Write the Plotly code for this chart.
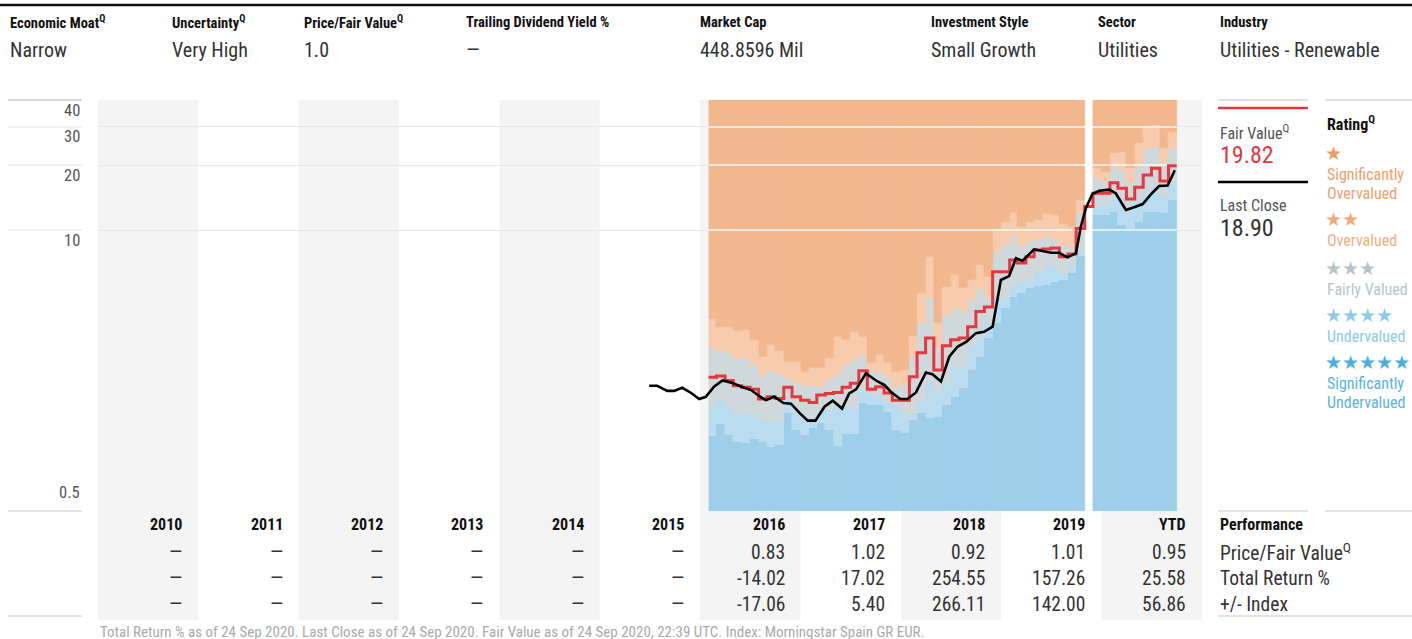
import math
from datetime import date
import plotly.graph_objects as go

# ---------------- data ----------------
HEADER_LABELS = ["Economic Moat", "Uncertainty", "Price/Fair Value", "Trailing Dividend Yield %",
                 "Market Cap", "Investment Style", "Sector", "Industry"]
HEADER_HAS_Q = [True, True, True, False, False, False, False, False]
HEADER_VALUES = ["Narrow", "Very High", "1.0", "—", "448.8596 Mil", "Small Growth",
                 "Utilities", "Utilities - Renewable"]

# monthly valuation bands (Nov 2019 missing)
BAND_MONTHS = [
    "2016-02", "2016-03", "2016-04", "2016-05", "2016-06", "2016-07", "2016-08", "2016-09", "2016-10", "2016-11", "2016-12",
    "2017-01", "2017-02", "2017-03", "2017-04", "2017-05", "2017-06", "2017-07", "2017-08", "2017-09", "2017-10", "2017-11", "2017-12",
    "2018-01", "2018-02", "2018-03", "2018-04", "2018-05", "2018-06", "2018-07", "2018-08", "2018-09", "2018-10", "2018-11", "2018-12",
    "2019-01", "2019-02", "2019-03", "2019-04", "2019-05", "2019-06", "2019-07", "2019-08", "2019-09", "2019-10",
    "2019-12", "2020-01", "2020-02", "2020-03", "2020-04", "2020-05", "2020-06", "2020-07", "2020-08", "2020-09",
]
# lower edge of the 1-star zone
BAND_1STAR = [3.87, 3.56, 3.56, 3.41, 3.44, 3.10, 2.58, 2.94, 2.75, 2.45, 2.45,
              2.20, 2.30, 2.30, 2.56, 3.20, 3.10, 3.37, 3.20, 2.42, 2.64, 2.42, 2.20,
              2.25, 3.23, 5.11, 7.50, 3.71, 5.45, 6.19, 5.39, 5.87, 6.89, 6.06, 10.0,
              10.89, 11.99, 10.32, 10.89, 11.13, 11.86, 11.73, 10.66, 10.32, 13.77,
              19.36, 18.56, 22.73, 22.97, 19.36, 25.28, 30.0, 30.63, 23.97, 28.42]
# lower edge of the 2-star zone
BAND_2STAR = [2.84, 2.75, 2.70, 2.53, 2.56, 2.37, 2.11, 2.23, 2.15, 2.04, 1.96,
              1.90, 1.90, 1.90, 2.02, 2.15, 2.37, 2.50, 2.64, 2.20, 2.20, 2.06, 1.88,
              1.92, 2.58, 3.71, 4.84, 2.87, 4.04, 4.35, 4.17, 4.74, 5.33, 4.90, 7.91,
              8.52, 9.38, 8.34, 8.80, 8.99, 9.28, 8.99, 8.43, 8.34, 11.99,
              17.41, 16.68, 19.36, 18.96, 16.51, 19.57, 23.47, 24.23, 20.43, 23.71]
# lower edge of the 3-star zone
BAND_3STAR = [1.52, 1.65, 1.52, 1.39, 1.41, 1.41, 1.31, 1.29, 1.29, 1.63, 1.42,
              1.35, 1.35, 1.47, 1.47, 1.52, 1.52, 1.50, 1.82, 1.72, 1.67, 1.58, 1.55,
              1.36, 1.42, 1.60, 1.98, 1.76, 1.96, 2.32, 2.32, 2.87, 3.20, 3.71, 4.84,
              4.84, 5.57, 5.75, 5.87, 6.32, 6.67, 6.67, 6.32, 6.74, 8.08,
              13.05, 13.05, 13.77, 13.77, 12.38, 13.77, 14.83, 15.31, 14.22, 16.51]
# lower edge of the 4-star zone
BAND_4STAR = [1.11, 1.26, 1.12, 1.04, 1.03, 1.08, 1.04, 0.99, 1.01, 1.42, 1.19,
              1.12, 1.21, 1.28, 1.19, 1.00, 1.14, 1.14, 1.58, 1.55, 1.55, 1.44, 1.19,
              1.15, 1.32, 1.42, 1.35, 1.36, 1.55, 1.69, 1.86, 2.25, 2.58, 3.16, 3.71,
              4.35, 4.90, 5.11, 5.39, 5.51, 5.57, 5.75, 5.87, 6.32, 7.58,
              11.73, 11.73, 12.11, 10.55, 10.11, 10.89, 12.11, 12.11, 11.99, 13.77]

FV_MONTHS = [
    "2016-02", "2016-03", "2016-04", "2016-05", "2016-06", "2016-07", "2016-08", "2016-09", "2016-10", "2016-11", "2016-12",
    "2017-01", "2017-02", "2017-03", "2017-04", "2017-05", "2017-06", "2017-07", "2017-08", "2017-09", "2017-10", "2017-11", "2017-12",
    "2018-01", "2018-02", "2018-03", "2018-04", "2018-05", "2018-06", "2018-07", "2018-08", "2018-09", "2018-10", "2018-11", "2018-12",
    "2019-01", "2019-02", "2019-03", "2019-04", "2019-05", "2019-06", "2019-07", "2019-08", "2019-09", "2019-10", "2019-11", "2019-12",
    "2020-01", "2020-02", "2020-03", "2020-04", "2020-05", "2020-06", "2020-07", "2020-08", "2020-09",
]
FV_VALUES = [2.08, 2.11, 2.01, 1.90, 1.87, 1.83, 1.65, 1.69, 1.66, 1.87, 1.69,
             1.63, 1.59, 1.72, 1.75, 1.77, 1.87, 1.95, 2.23, 1.83, 1.88, 1.76, 1.63,
             1.63, 2.09, 2.70, 3.16, 2.25, 2.91, 3.10, 3.16, 3.57, 4.19, 4.40, 6.41,
             6.41, 7.26, 7.04, 7.52, 8.08, 8.17, 8.25, 7.52, 7.74, 10.16, 12.85, 14.79,
             14.79, 16.56, 15.60, 13.91, 15.77, 17.97, 19.30, 16.86, 19.82]

PRICE_DATES = [
    "2015-06-30", "2015-07-29", "2015-09-04", "2015-09-29", "2015-10-28", "2015-11-30", "2015-12-29",
    "2016-01-22", "2016-02-21", "2016-03-23", "2016-04-28", "2016-06-04", "2016-07-04", "2016-08-04",
    "2016-08-28", "2016-09-27", "2016-10-31", "2016-11-27", "2016-12-29",
    "2017-01-27", "2017-02-24", "2017-03-29", "2017-04-28", "2017-06-01", "2017-06-27", "2017-07-22",
    "2017-08-27", "2017-09-14", "2017-10-08", "2017-11-02", "2017-11-26", "2017-12-30",
    "2018-01-25", "2018-02-25", "2018-04-02", "2018-04-26", "2018-05-27", "2018-06-26", "2018-07-26",
    "2018-08-28", "2018-10-01", "2018-10-31", "2018-12-01", "2018-12-31",
    "2019-01-30", "2019-02-24", "2019-03-20", "2019-05-01", "2019-05-31", "2019-07-01", "2019-07-31",
    "2019-08-30", "2019-09-30", "2019-10-18", "2019-11-05", "2019-11-29", "2019-12-24",
    "2020-01-29", "2020-02-22", "2020-03-30", "2020-04-29", "2020-05-30", "2020-06-29", "2020-07-29",
    "2020-08-29", "2020-09-24",
]
PRICE_VALUES = [1.90, 1.90, 1.80, 1.80, 1.86, 1.76, 1.65,
                1.69, 1.88, 2.01, 1.96, 1.87, 1.82, 1.70,
                1.63, 1.69, 1.58, 1.57, 1.42,
                1.31, 1.31, 1.52, 1.62, 1.49, 1.75, 1.83,
                2.17, 2.09, 1.99, 1.92, 1.78, 1.65,
                1.65, 1.77, 2.19, 2.15, 1.99, 2.59, 2.88,
                3.04, 3.33, 3.38, 3.57, 5.87,
                6.12, 7.40, 7.21, 8.14, 8.02, 7.85, 7.85,
                7.48, 7.80, 10.36, 12.60, 14.68, 15.20,
                15.38, 14.79, 12.38, 12.74, 13.19, 14.63, 15.98,
                16.07, 18.90]

FAIR_VALUE_TEXT = "19.82"
LAST_CLOSE_TEXT = "18.90"

YEARS = ["2010", "2011", "2012", "2013", "2014", "2015", "2016", "2017", "2018", "2019", "YTD"]
ROW_LABELS = ["Price/Fair Value", "Total Return %", "+/- Index"]
ROW_PFV = ["—", "—", "—", "—", "—", "—", "0.83", "1.02", "0.92", "1.01", "0.95"]
ROW_TR = ["—", "—", "—", "—", "—", "—", "-14.02", "17.02", "254.55", "157.26", "25.58"]
ROW_IDX = ["—", "—", "—", "—", "—", "—", "-17.06", "5.40", "266.11", "142.00", "56.86"]

Y_TICKS = [40, 30, 20, 10, 0.5]
Y_TICK_TEXT = ["40", "30", "20", "10", "0.5"]

RATINGS = [
    ("★", ["Significantly", "Overvalued"], "#f29a5e", "#f3a06a"),
    ("★★", ["Overvalued"], "#f4aa78", "#f5ae7e"),
    ("★★★", ["Fairly Valued"], "#b7c3c6", "#b9c5c8"),
    ("★★★★", ["Undervalued"], "#8ecaeb", "#8fcaea"),
    ("★★★★★", ["Significantly", "Undervalued"], "#4cafe3", "#5ab4e3"),
]

FOOTNOTE = ("Total Return % as of 24 Sep 2020. Last Close as of 24 Sep 2020. "
            "Fair Value as of 24 Sep 2020, 22:39 UTC. Index: Morningstar Spain GR EUR.")

# ---------------- styling ----------------
FONT = "Liberation Sans Narrow, Roboto Condensed, Arial Narrow, Roboto, sans-serif"
W, H = 1412, 639
PLOT_L, PLOT_R, PLOT_T, PLOT_B = 98, 1202, 100, 511
AXIS_MIN, AXIS_MAX = 0.5, 40
COL_BANDS = ["#9dcfeb", "#b9dcf1", "#cfd8da", "#f7cbab", "#f2b78d"]
RED = "#e8363f"
GREY_COL = "#f4f4f4"


def px(x):
    return (x - PLOT_L) / (PLOT_R - PLOT_L)


def py(y):
    return (PLOT_B - y) / (PLOT_B - PLOT_T)


def m_start(m):
    y, mo = map(int, m.split("-"))
    return date(y, mo, 1)


def m_end(m):
    y, mo = map(int, m.split("-"))
    return date(y + (1 if mo == 12 else 0), mo % 12 + 1, 1)


MS_DAY = 86400000
bx = [m_start(m).isoformat() for m in BAND_MONTHS]
bw = [(m_end(m) - m_start(m)).days * MS_DAY for m in BAND_MONTHS]

lower = [[AXIS_MIN * 0.8] * len(BAND_MONTHS), BAND_4STAR, BAND_3STAR, BAND_2STAR, BAND_1STAR]
upper = [BAND_4STAR, BAND_3STAR, BAND_2STAR, BAND_1STAR, [AXIS_MAX * 1.3] * len(BAND_MONTHS)]

fig = go.Figure()
for k in range(5):
    fig.add_trace(go.Bar(
        x=bx, y=[u - l for u, l in zip(upper[k], lower[k])], base=lower[k],
        width=bw, offset=0,
        marker=dict(color=COL_BANDS[k], line=dict(color=COL_BANDS[k], width=0.4)),
        hoverinfo="skip", showlegend=False))

# white gridlines over the valuation area
g_x0 = m_start(BAND_MONTHS[0]).isoformat()
g_x1 = m_end(BAND_MONTHS[-1]).isoformat()
for g in [10, 20, 30]:
    fig.add_trace(go.Scatter(x=[g_x0, g_x1], y=[g, g], mode="lines",
                             line=dict(color="rgba(255,255,255,0.9)", width=1.3),
                             hoverinfo="skip", showlegend=False))

# fair value step line
fv_x = [m_start(m).isoformat() for m in FV_MONTHS] + [m_end(FV_MONTHS[-1]).isoformat()]
fv_y = FV_VALUES + [FV_VALUES[-1]]
fig.add_trace(go.Scatter(x=fv_x, y=fv_y, mode="lines", line=dict(color=RED, width=3, shape="hv"),
                         hoverinfo="skip", showlegend=False))
# price line
fig.add_trace(go.Scatter(x=PRICE_DATES, y=PRICE_VALUES, mode="lines",
                         line=dict(color="#000000", width=2.6),
                         hoverinfo="skip", showlegend=False))

shapes = []
# alternating year columns
for i, yr in enumerate(YEARS):
    if i % 2 == 0:
        y0 = 2010 + i
        shapes.append(dict(type="rect", xref="x", yref="paper", layer="below",
                           x0=f"{y0}-01-01", x1=f"{y0 + 1}-01-01", y0=py(620), y1=py(PLOT_T),
                           fillcolor=GREY_COL, line=dict(width=0)))


def hline(x0, x1, y, color, width=1):
    shapes.append(dict(type="line", xref="paper", yref="paper", x0=px(x0), x1=px(x1),
                       y0=py(y), y1=py(y), line=dict(color=color, width=width)))


hline(0, W, 5, "#111111", 2.6)
hline(8, 82, 100, "#b0b0b0", 1)
for v in [30, 20, 10]:
    yy = PLOT_B - (math.log10(v) - math.log10(AXIS_MIN)) / (math.log10(AXIS_MAX) - math.log10(AXIS_MIN)) * (PLOT_B - PLOT_T)
    hline(8, 82, yy, "#e2e2e2", 1)
hline(8, 82, 511, "#c8c8c8", 1)
hline(8, 82, 616, "#c8c8c8", 1)
hline(1218, 1308, 100, "#c8c8c8", 1)
hline(1325, 1412, 100, "#c8c8c8", 1)
hline(1218, 1308, 108, RED, 2.6)
hline(1218, 1308, 182, "#000000", 2.3)
hline(1218, 1308, 511, "#c8c8c8", 1)
hline(1325, 1412, 511, "#c8c8c8", 1)
hline(1218, 1412, 616, "#c8c8c8", 1)

ann = []


def text(x, y, s, size, color="#333333", bold=False, anchor="left", family=FONT):
    ann.append(dict(xref="paper", yref="paper", x=px(x), y=py(y), text=s, showarrow=False,
                    xanchor=anchor, yanchor="middle",
                    font=dict(family=family, size=size, color=color, weight=700 if bold else 400)))


# header
HEADER_X = [8, 170, 302, 464, 698, 929, 1096, 1218]
for hx, lab, q, val in zip(HEADER_X, HEADER_LABELS, HEADER_HAS_Q, HEADER_VALUES):
    text(hx, 22, lab + ("<sup>Q</sup>" if q else ""), 14.5, "#111111", bold=True)
    text(hx, 50, val, 20, "#333333")

# y tick labels
for v, t in zip(Y_TICKS, Y_TICK_TEXT):
    ann.append(dict(xref="paper", yref="y", x=px(82), y=math.log10(v), text=t, showarrow=False,
                    xanchor="right", yanchor="middle", yshift=(19 if v == AXIS_MIN else -10),
                    font=dict(family=FONT, size=16.5, color="#555555")))

# table
for i, yr in enumerate(YEARS):
    xr = f"{2011 + i}-01-01"
    ann.append(dict(xref="x", yref="paper", x=xr, y=py(524), text=yr, showarrow=False,
                    xanchor="right", yanchor="middle", xshift=-14,
                    font=dict(family=FONT, size=16, color="#111111", weight=700)))
    for row, yy in zip([ROW_PFV, ROW_TR, ROW_IDX], [552, 578, 604]):
        ann.append(dict(xref="x", yref="paper", x=xr, y=py(yy), text=row[i], showarrow=False,
                        xanchor="right", yanchor="middle", xshift=-14,
                        font=dict(family=FONT, size=19.5, color="#333333")))

text(1218, 524, "Performance", 16, "#111111", bold=True)
text(1218, 552, ROW_LABELS[0] + "<sup>Q</sup>", 19.5)
text(1218, 578, ROW_LABELS[1], 19.5)
text(1218, 604, ROW_LABELS[2], 19.5)

# legend: fair value / last close
text(1218, 132, "Fair Value<sup>Q</sup>", 16, "#555555")
text(1218, 155, FAIR_VALUE_TEXT, 24, RED)
text(1218, 205, "Last Close", 16, "#555555")
text(1218, 228, LAST_CLOSE_TEXT, 24, "#333333")

# legend: rating
text(1325, 123, "Rating<sup>Q</sup>", 16, "#111111", bold=True)
STAR_Y = [153, 219, 268, 315, 362]
for (stars, lines, scol, tcol), sy in zip(RATINGS, STAR_Y):
    text(1323, sy, stars, 19, scol, family="DejaVu Sans")
    for j, ln in enumerate(lines):
        text(1325, sy + 21 + 19.5 * j, ln, 16, tcol)

# footnote
text(98, 632, FOOTNOTE, 15, "#aaaaaa")

fig.update_layout(
    width=W, height=H,
    margin=dict(l=PLOT_L, r=W - PLOT_R, t=PLOT_T, b=H - PLOT_B, pad=0),
    paper_bgcolor="white", plot_bgcolor="rgba(0,0,0,0)",
    barmode="overlay", bargap=0,
    showlegend=False,
    shapes=shapes, annotations=ann,
    font=dict(family=FONT),
    xaxis=dict(type="date", range=["2010-01-01", "2021-01-01"], showgrid=False, zeroline=False,
               showticklabels=False, showline=False, ticks="", fixedrange=True),
    yaxis=dict(type="log", range=[math.log10(AXIS_MIN), math.log10(AXIS_MAX)],
               tickvals=[10, 20, 30], showticklabels=False, gridcolor="#e8e8e8", gridwidth=1,
               zeroline=False, showline=False, ticks="", fixedrange=True),
)

fig.write_html(
    "out.html",
    config={"displayModeBar": False},
    post_script="document.body.style.margin='0';document.body.style.overflow='hidden';",
)
